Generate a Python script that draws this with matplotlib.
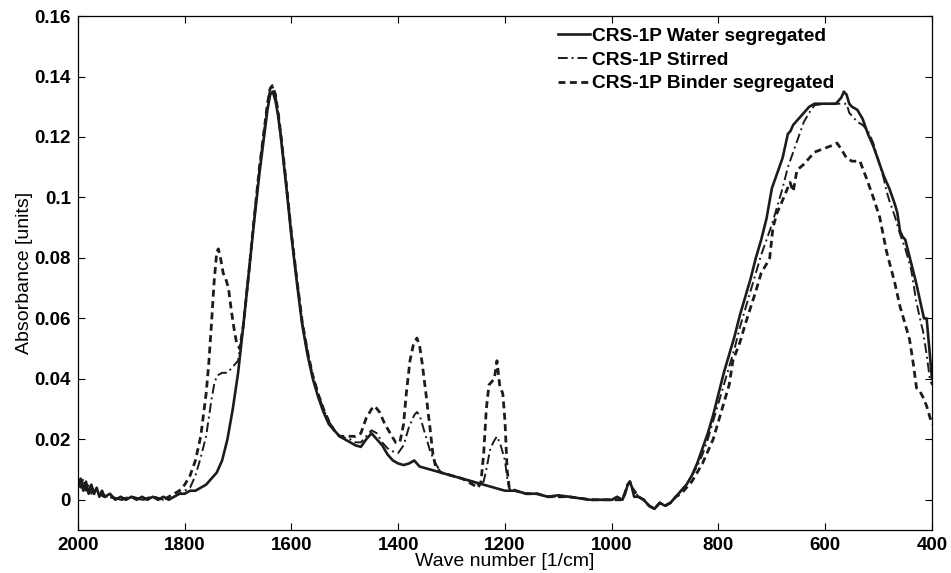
import matplotlib
matplotlib.use("Agg")
import matplotlib.pyplot as plt
from matplotlib import font_manager

# ---------------- data ----------------
water_x = [2000,1995,1990,1985,1980,1975,1970,1965,1960,1955,1950,1940,1930,1920,1910,1900,1890,1880,1870,1860,
           1850,1840,1830,1820,1810,1800,1790,1780,1770,1760,1750,1740,1730,1720,1710,1700,1690,1680,1670,1660,
           1650,1645,1640,1635,1630,1625,1620,1610,1600,1590,1580,1570,1560,1550,1540,1530,1520,1510,1500,1490,
           1480,1470,1460,1450,1440,1430,1420,1410,1400,1390,1380,1370,1360,1340,1320,1300,1280,1260,1240,1220,
           1200,1180,1160,1140,1120,1100,1080,1060,1040,1020,1000,990,980,975,970,966,962,958,950,940,
           930,920,910,900,890,880,870,860,850,840,830,820,810,800,790,780,770,760,750,740,
           730,720,710,700,690,680,675,670,665,660,650,640,630,620,610,600,590,580,570,565,
           560,555,550,540,530,520,510,500,490,480,470,465,460,455,450,440,430,425,420,415,
           410,405,400]
water_y = [0.005,0.007,0.003,0.006,0.002,0.005,0.002,0.004,0.001,0.003,0.001,0.002,0.000,0.001,0.000,0.001,0.000,0.001,0.000,0.001,
           0.000,0.001,0.000,0.001,0.002,0.002,0.003,0.003,0.004,0.005,0.007,0.009,0.013,0.020,0.030,0.042,0.058,0.075,0.092,0.108,
           0.122,0.129,0.134,0.135,0.132,0.127,0.120,0.104,0.087,0.072,0.058,0.048,0.040,0.034,0.029,0.025,0.023,0.021,0.020,0.019,
           0.018,0.0175,0.020,0.022,0.020,0.018,0.015,0.013,0.012,0.0115,0.012,0.013,0.011,0.010,0.009,0.008,0.007,0.006,0.005,0.004,
           0.003,0.003,0.002,0.002,0.001,0.0015,0.001,0.0005,0.000,0.000,0.000,0.001,0.000,0.002,0.005,0.006,0.004,0.001,0.001,0.000,
           -0.002,-0.003,-0.001,-0.002,-0.001,0.001,0.003,0.005,0.008,0.012,0.017,0.022,0.028,0.035,0.042,0.048,0.054,0.061,0.067,0.073,
           0.080,0.086,0.093,0.103,0.108,0.113,0.117,0.121,0.122,0.124,0.126,0.128,0.130,0.131,0.131,0.131,0.131,0.131,0.133,0.135,
           0.134,0.131,0.130,0.129,0.126,0.121,0.117,0.112,0.107,0.103,0.098,0.095,0.089,0.087,0.086,0.079,0.072,0.068,0.064,0.060,
           0.060,0.050,0.040]

stirred_x = [2000,1995,1990,1985,1980,1975,1970,1960,1950,1940,1920,1900,1880,1860,1840,1820,1810,1800,1790,1780,
             1770,1760,1755,1750,1745,1740,1730,1720,1710,1700,1690,1680,1670,1660,1650,1645,1640,1636,1630,1625,
             1620,1610,1600,1590,1580,1570,1560,1550,1540,1530,1520,1510,1500,1490,1480,1470,1460,1450,1440,1430,
             1420,1410,1400,1390,1380,1370,1365,1360,1350,1340,1330,1320,1300,1280,1260,1250,1240,1235,1228,1222,
             1215,1208,1200,1195,1190,1180,1160,1140,1120,1100,1080,1060,1040,1020,1000,980,970,966,962,950,
             940,930,920,910,900,890,880,870,860,850,840,830,820,810,800,790,780,770,760,750,
             740,730,720,710,700,690,680,670,660,650,640,630,620,600,580,570,560,555,550,540,
             530,520,510,500,490,485,480,470,460,450,440,436,430,420,417,410,404,400]
stirred_y = [0.006,0.004,0.007,0.003,0.005,0.002,0.004,0.002,0.001,0.001,0.000,0.001,0.000,0.001,0.000,0.001,0.002,0.003,0.004,0.008,
             0.014,0.021,0.027,0.033,0.038,0.041,0.042,0.042,0.044,0.046,0.058,0.075,0.093,0.110,0.124,0.131,0.136,0.137,0.134,0.128,
             0.121,0.105,0.088,0.073,0.059,0.049,0.041,0.035,0.030,0.026,0.023,0.021,0.0205,0.020,0.019,0.019,0.021,0.023,0.022,0.019,
             0.017,0.016,0.0155,0.018,0.024,0.028,0.029,0.028,0.022,0.016,0.012,0.009,0.008,0.007,0.006,0.005,0.006,0.010,0.0165,0.019,
             0.021,0.018,0.013,0.006,0.003,0.003,0.002,0.002,0.001,0.001,0.001,0.0005,0.000,0.000,0.000,0.000,0.005,0.006,0.004,0.001,
             0.000,-0.002,-0.003,-0.001,-0.002,-0.001,0.001,0.003,0.005,0.008,0.011,0.015,0.020,0.026,0.032,0.038,0.044,0.050,0.057,0.063,
             0.069,0.075,0.081,0.086,0.091,0.097,0.103,0.110,0.115,0.120,0.125,0.128,0.1305,0.131,0.131,0.131,0.131,0.128,0.127,0.125,
             0.124,0.122,0.118,0.112,0.106,0.102,0.099,0.094,0.088,0.083,0.077,0.073,0.066,0.058,0.056,0.048,0.040,0.038]

binder_x = [2000,1995,1990,1985,1980,1975,1970,1960,1950,1940,1920,1900,1880,1860,1840,1820,1810,1800,1790,1780,
            1770,1760,1755,1750,1745,1740,1737,1733,1728,1723,1718,1713,1708,1703,1697,1690,1680,1670,1660,1650,
            1645,1640,1636,1630,1625,1620,1610,1600,1590,1580,1570,1560,1550,1540,1530,1520,1510,1500,1490,1480,
            1470,1460,1450,1444,1435,1425,1415,1405,1397,1390,1385,1378,1372,1365,1360,1355,1348,1340,1335,1330,
            1320,1300,1280,1260,1250,1245,1240,1235,1230,1225,1220,1215,1210,1204,1200,1196,1192,1180,1160,1140,
            1120,1100,1080,1060,1040,1020,1000,980,970,966,962,950,940,930,920,910,900,890,880,870,
            860,850,840,830,820,810,800,790,780,773,760,750,741,730,720,710,704,698,690,680,
            666,660,653,640,630,620,605,590,578,570,560,550,535,522,510,498,485,470,460,450,
            442,435,429,423,417,410,405,400]
binder_y = [0.004,0.007,0.004,0.005,0.002,0.005,0.002,0.002,0.001,0.001,0.000,0.001,0.000,0.001,0.000,0.002,0.003,0.005,0.008,0.013,
            0.021,0.035,0.045,0.058,0.072,0.082,0.083,0.080,0.075,0.073,0.070,0.063,0.057,0.052,0.050,0.058,0.075,0.093,0.110,0.124,
            0.131,0.136,0.137,0.134,0.128,0.121,0.105,0.088,0.073,0.059,0.049,0.041,0.035,0.030,0.026,0.023,0.021,0.021,0.021,0.021,
            0.022,0.027,0.030,0.031,0.029,0.025,0.022,0.019,0.019,0.025,0.035,0.046,0.051,0.0535,0.051,0.045,0.035,0.023,0.015,0.011,
            0.009,0.008,0.007,0.005,0.004,0.006,0.015,0.030,0.038,0.039,0.040,0.046,0.038,0.035,0.026,0.010,0.004,0.003,0.002,0.002,
            0.001,0.001,0.001,0.0005,0.000,0.000,0.000,0.000,0.005,0.006,0.004,0.001,0.000,-0.002,-0.003,-0.001,-0.002,-0.001,0.001,0.002,
            0.004,0.006,0.009,0.012,0.016,0.020,0.026,0.032,0.038,0.046,0.052,0.058,0.063,0.069,0.075,0.078,0.080,0.090,0.095,0.099,
            0.105,0.102,0.109,0.111,0.113,0.115,0.116,0.117,0.118,0.116,0.113,0.112,0.112,0.106,0.100,0.0935,0.082,0.072,0.064,0.058,
            0.053,0.045,0.037,0.036,0.034,0.031,0.028,0.025]

series_labels = ["CRS-1P Water segregated", "CRS-1P Stirred", "CRS-1P Binder segregated"]
x_ticks = [2000, 1800, 1600, 1400, 1200, 1000, 800, 600, 400]
y_ticks = [0, 0.02, 0.04, 0.06, 0.08, 0.1, 0.12, 0.14, 0.16]
y_tick_labels = ["0", "0.02", "0.04", "0.06", "0.08", "0.1", "0.12", "0.14", "0.16"]

# ---------------- figure ----------------
plt.rcParams['font.family'] = ['Liberation Sans', 'DejaVu Sans']
names = {f.name for f in font_manager.fontManager.ttflist}
label_family = ['Liberation Sans Narrow', 'Liberation Sans'] if 'Liberation Sans Narrow' in names else ['Liberation Sans']

fig = plt.figure(figsize=(9.51, 5.73), dpi=100)
ax = fig.add_axes([0.082, 0.075, 0.898, 0.897])

col = '#1c1c1c'
ax.plot(water_x, water_y, color=col, lw=1.9, ls='-', label=series_labels[0])
ax.plot(stirred_x, stirred_y, color=col, lw=1.4, ls=(0, (5, 2, 1, 2)), label=series_labels[1])
ax.plot(binder_x, binder_y, color=col, lw=2.0, ls=(0, (2.5, 1.6)), label=series_labels[2])

ax.set_xlim(2000, 400)
ax.set_ylim(-0.01, 0.16)
ax.set_xticks(x_ticks)
ax.set_xticklabels([str(t) for t in x_ticks])
ax.set_yticks(y_ticks)
ax.set_yticklabels(y_tick_labels)
ax.tick_params(direction='in', top=True, right=True, length=5, width=0.8,
               labelsize=13.5, pad=5)
for lab in ax.get_xticklabels() + ax.get_yticklabels():
    lab.set_fontweight('bold')
for s in ax.spines.values():
    s.set_linewidth(0.9)

ax.set_xlabel("Wave number [1/cm]", fontsize=14, family=label_family, labelpad=-1)
ax.set_ylabel("Absorbance [units]", fontsize=14, family=label_family, labelpad=1)

leg = ax.legend(loc='upper left', bbox_to_anchor=(0.562, 0.978), frameon=False,
                prop={'weight': 'bold', 'size': 13.8}, handlelength=1.65,
                handletextpad=0.15, labelspacing=0.33, borderaxespad=0.0, borderpad=0.0)

fig.savefig("out.png", dpi=100)
